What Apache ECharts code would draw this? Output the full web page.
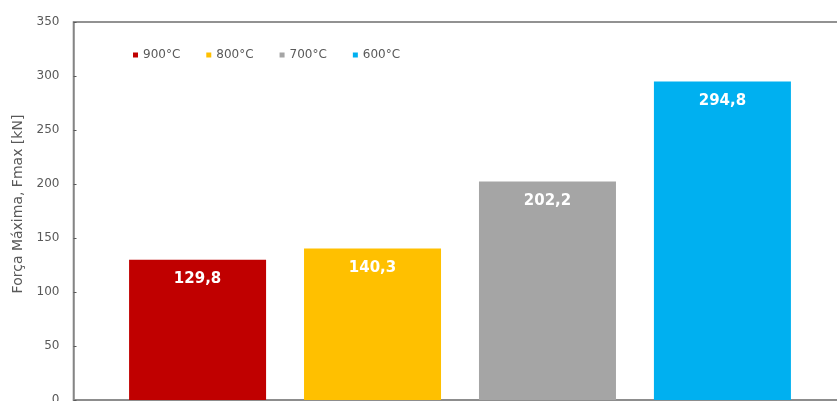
<!DOCTYPE html>
<html>
<head>
<meta charset="utf-8">
<script src="https://cdn.jsdelivr.net/npm/echarts@6/dist/echarts.min.js"></script>
<style>
  html, body { margin: 0; padding: 0; background: #fff; }
  #chart { width: 837px; height: 401px; }
</style>
</head>
<body>
<div id="chart"></div>
<script>
// Maximum force per forging temperature
const temperatures = ['900°C', '800°C', '700°C', '600°C'];
const maxForce = [129.8, 140.3, 202.2, 294.8];
const barColors = ['#C00000', '#FFC000', '#A5A5A5', '#00B0F0'];
const yTicks = { min: 0, max: 350, step: 50 };
const yTitle = 'Força Máxima, Fmax [kN]';

const FONT = 'DejaVu Sans';
const fmt = v => v.toFixed(1).replace('.', ',');

const chart = echarts.init(document.getElementById('chart'), null, { renderer: 'canvas' });

const series = temperatures.map((t, i) => ({
  name: t,
  type: 'bar',
  data: [maxForce[i]],
  barWidth: 137,
  barGap: '27.7%',
  itemStyle: { color: barColors[i] },
  label: {
    show: true,
    position: 'insideTop',
    distance: 12,
    color: '#ffffff',
    fontFamily: FONT,
    fontWeight: 'bold',
    fontSize: 15,
    formatter: p => fmt(p.value)
  }
}));

chart.setOption({
  animation: false,
  backgroundColor: '#ffffff',
  grid: {
    left: 73.5,
    top: 22,
    width: 773,
    height: 378,
    show: true,
    borderColor: '#6f6f6f',
    borderWidth: 1.5,
    containLabel: false,
    outerBoundsMode: 'none'
  },
  legend: {
    data: temperatures,
    left: 128,
    top: 44,
    icon: 'rect',
    itemWidth: 5,
    itemHeight: 5,
    itemGap: 26,
    textStyle: { fontFamily: FONT, fontSize: 12, color: '#595959' }
  },
  xAxis: {
    type: 'category',
    data: [''],
    axisLine: { show: true, lineStyle: { color: '#8c8c8c', width: 1.5 } },
    axisTick: { show: false },
    axisLabel: { show: false }
  },
  yAxis: {
    type: 'value',
    min: yTicks.min,
    max: yTicks.max,
    interval: yTicks.step,
    name: yTitle,
    nameLocation: 'middle',
    nameGap: 48,
    nameTextStyle: { fontFamily: FONT, fontSize: 14, color: '#595959', padding: [0, 0, 0, 14] },
    axisLine: { show: true, lineStyle: { color: '#8c8c8c', width: 1.5 } },
    axisTick: { show: true, inside: true, length: 3, lineStyle: { color: '#595959' } },
    axisLabel: { margin: 14, fontFamily: FONT, fontSize: 12, color: '#595959' },
    splitLine: { show: false }
  },
  series: series
});
</script>
</body>
</html>
